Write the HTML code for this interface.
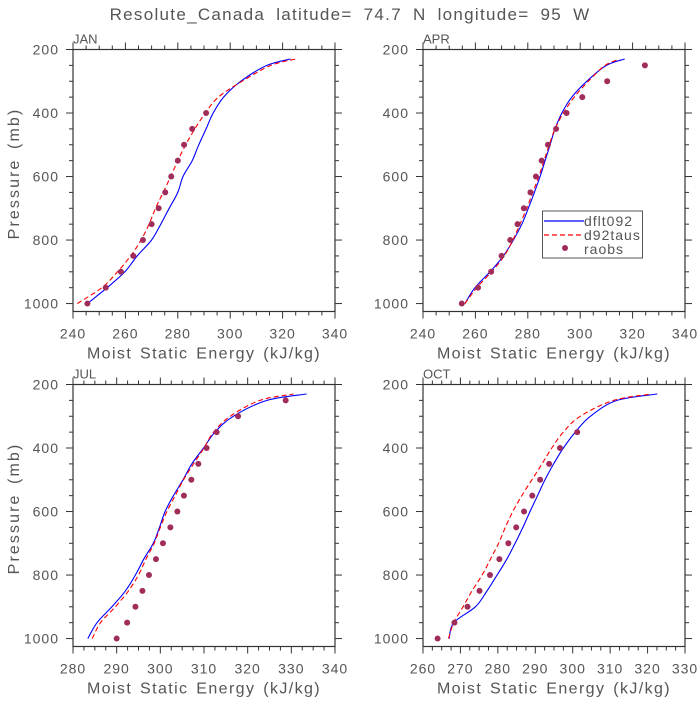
<!DOCTYPE html>
<html><head><meta charset="utf-8"><style>
html,body{margin:0;padding:0;background:#fff;}
svg text{font-family:"Liberation Sans","DejaVu Sans",sans-serif;fill:#555;}
</style></head><body>
<svg id="chart" width="700" height="700" viewBox="0 0 700 700" xmlns="http://www.w3.org/2000/svg">
<rect width="700" height="700" fill="#fff"/>
<text x="350" y="20" text-anchor="middle" font-size="17" letter-spacing="1.3" word-spacing="5">Resolute_Canada  latitude= 74.7 N longitude= 95 W</text>
</svg>
<script>
// Shared pressure levels (mb)
const pLine = [1000,950,900,850,800,750,700,650,600,550,500,450,400,350,300,250,230];
const pObs = [1000,950,900,850,800,750,700,650,600,550,500,450,400,350,300,250];
const yTicks = [200,400,600,800,1000];

// JAN
const janBlue = [245.5,253,259.8,264.5,270,273.5,276.7,280,282,285.5,288,290.8,293.5,297.5,304,314,323];
const janRed = [241.6,251,257,262,266,269,271.5,274.4,277.3,280,283,286.5,290.5,295.5,304.5,315.5,325];
const janObs = [245.5,252.5,258.3,263,266.7,270,272.7,275.2,277.5,280,282.4,285.5,290.8];
const janXTicks = [240,260,280,300,320,340];

// APR
const aprBlue = [256,259.8,265.6,270.7,274.5,277.7,280.2,282.5,284.7,286.6,288.5,290.4,293,296.8,302.5,310,317];
const aprRed = [256,260.5,266.2,271,274.3,277,279.6,281.9,284.2,286.2,288.2,290.4,293.6,297.7,303.1,309.5,315];
const aprObs = [254.8,261,266,270,273.3,276.1,278.5,281,283.1,285.3,287.7,290.8,294.8,300.8,310.3,324.7];
const aprXTicks = [240,260,280,300,320,340];

// JUL
const julBlue = [283.4,285.5,288.9,292,294.3,296.2,298.4,299.8,301.1,303,305.2,307.2,309.9,312.5,316.7,324.4,333.5];
const julRed = [284.4,286.3,289.7,292.7,295,296.7,298.6,300,301.5,303.4,305.3,307.6,310,312.2,316,322.8,330.5];
const julObs = [290,292.4,294.3,295.9,297.4,299,300.6,302.3,303.9,305.4,307.1,308.7,310.6,312.9,317.8,328.7];
const julXTicks = [280,290,300,310,320,330,340];

// OCT
const octBlue = [267,268.2,274,277.1,279.8,282.4,284.6,286.7,288.6,290.6,292.6,294.9,297.5,300.7,304.7,311.8,322.6];
const octRed = [266.8,268.2,270.7,273.1,275.8,278,280.2,282,284,286.4,289.1,291.8,294.4,297.5,302,310.9,321];
const octObs = [263.9,268.4,271.9,275.1,277.9,280.4,282.8,284.9,287,289.2,291.3,293.7,296.6,301.2];
const octXTicks = [260,270,280,290,300,310,320,330];

const svg = document.getElementById('chart');
const NS = 'http://www.w3.org/2000/svg';
function mk(tag, attrs, parent){
  const e = document.createElementNS(NS, tag);
  for (const k in attrs) e.setAttribute(k, attrs[k]);
  (parent||svg).appendChild(e);
  return e;
}
function smooth(pts){
  let d = 'M'+pts[0][0].toFixed(1)+','+pts[0][1].toFixed(1);
  for (let i=0;i<pts.length-1;i++){
    const p0=pts[Math.max(0,i-1)], p1=pts[i], p2=pts[i+1], p3=pts[Math.min(pts.length-1,i+2)];
    const c1=[p1[0]+(p2[0]-p0[0])/6, p1[1]+(p2[1]-p0[1])/6];
    const c2=[p2[0]-(p3[0]-p1[0])/6, p2[1]-(p3[1]-p1[1])/6];
    d+=' C'+c1[0].toFixed(1)+','+c1[1].toFixed(1)+' '+c2[0].toFixed(1)+','+c2[1].toFixed(1)+' '+p2[0].toFixed(1)+','+p2[1].toFixed(1);
  }
  return d;
}

function panel(o){
  const g = mk('g', {});
  
  
  const L=o.x0, R=o.x0+262, T=o.y0, B=o.y0+262;
  const xmin=o.xt[0], xmax=o.xt[o.xt.length-1];
  const xs = v => L + (v-xmin)/(xmax-xmin)*(R-L);
  const ys = p => T + (p-200)/825*(B-T);
  const frame = mk('rect', {x:L,y:T,width:R-L,height:B-T,fill:'none',stroke:'#333','stroke-width':1.2}, g);
  
  
  const step = o.xt[1]-o.xt[0];
  for (let v=xmin; v<=xmax+1e-6; v+=step/4){
    const major = Math.abs(((v-xmin)/step) - Math.round((v-xmin)/step))<1e-6;
    const len = major?7:4;
    const x = xs(v);
    mk('line',{x1:x,y1:B,x2:x,y2:B+len,stroke:'#333','stroke-width':1},g);
    mk('line',{x1:x,y1:T,x2:x,y2:T-len,stroke:'#333','stroke-width':1},g);
  }
  o.xt.forEach(v=>{
    const t = mk('text',{x:xs(v),y:B+27,'text-anchor':'middle','font-size':14,'letter-spacing':1},g);
    
    
    t.textContent = v;
  });
  for (let p=200; p<=1000; p+=50){
    const len = (p%200===0)?7:4;
    const y = ys(p);
    mk('line',{x1:L,y1:y,x2:L-len,y2:y,stroke:'#333','stroke-width':1},g);
    mk('line',{x1:R,y1:y,x2:R+len,y2:y,stroke:'#333','stroke-width':1},g);
  }
  yTicks.forEach(p=>{
    const t = mk('text',{x:L-14,y:ys(p)+5,'text-anchor':'end','font-size':14,'letter-spacing':1},g);
    
    
    t.textContent = p;
  });
  const nm = mk('text',{x:L,y:T-6,'font-size':13},g);
  
  
  nm.textContent = o.label;
  const xl = mk('text',{x:(L+R)/2,y:B+47,'text-anchor':'middle','font-size':16,'letter-spacing':1.4,'word-spacing':2},g);
  
  
  xl.textContent = 'Moist Static Energy (kJ/kg)';
  if (o.ylab){
    const yl = mk('text',{x:0,y:0,'text-anchor':'middle','font-size':16,'letter-spacing':2.1,'word-spacing':3,transform:`translate(19,${(T+B)/2-7}) rotate(-90)`},g);
    
    
    yl.textContent = 'Pressure (mb)';
  }
  const path = arr => smooth(arr.map((v,i)=>[xs(v), ys(pLine[i])]));
  const b = mk('path',{d:path(o.blue),fill:'none',stroke:'#0000ff','stroke-width':1.1},g);
  
  
  const r = mk('path',{d:path(o.red),fill:'none',stroke:'#ff0000','stroke-width':1.1,'stroke-dasharray':'5,3'},g);
  
  
  o.obs.forEach((v,i)=>{
    const c = mk('circle',{cx:xs(v),cy:ys(pObs[i]),r:3,fill:'#a02c5a'},g);
    
    
  });
}

panel({name:'jan',label:'JAN',x0:73,y0:49.5,xt:janXTicks,blue:janBlue,red:janRed,obs:janObs,ylab:true});
panel({name:'apr',label:'APR',x0:423,y0:49.5,xt:aprXTicks,blue:aprBlue,red:aprRed,obs:aprObs,ylab:false});
panel({name:'jul',label:'JUL',x0:73,y0:384.5,xt:julXTicks,blue:julBlue,red:julRed,obs:julObs,ylab:true});
panel({name:'oct',label:'OCT',x0:423,y0:384.5,xt:octXTicks,blue:octBlue,red:octRed,obs:octObs,ylab:false});

// Legend
const lg = mk('g',{});


mk('rect',{x:542.5,y:211,width:100,height:47,fill:'#fff',stroke:'#555','stroke-width':1},lg);
mk('line',{x1:544,y1:221,x2:584,y2:221,stroke:'#0000ff','stroke-width':1.2},lg);
mk('line',{x1:544,y1:235,x2:584,y2:235,stroke:'#ff0000','stroke-width':1.2,'stroke-dasharray':'5,3'},lg);
mk('circle',{cx:565,cy:248,r:3,fill:'#a02c5a'},lg);
[['dflt092',226],['d92taus',240],['raobs',254]].forEach(([s,y])=>{
  const t = mk('text',{x:584,y:y,'font-size':14,'letter-spacing':1},lg);
  
  
  t.textContent = s;
});
</script>
</body></html>
